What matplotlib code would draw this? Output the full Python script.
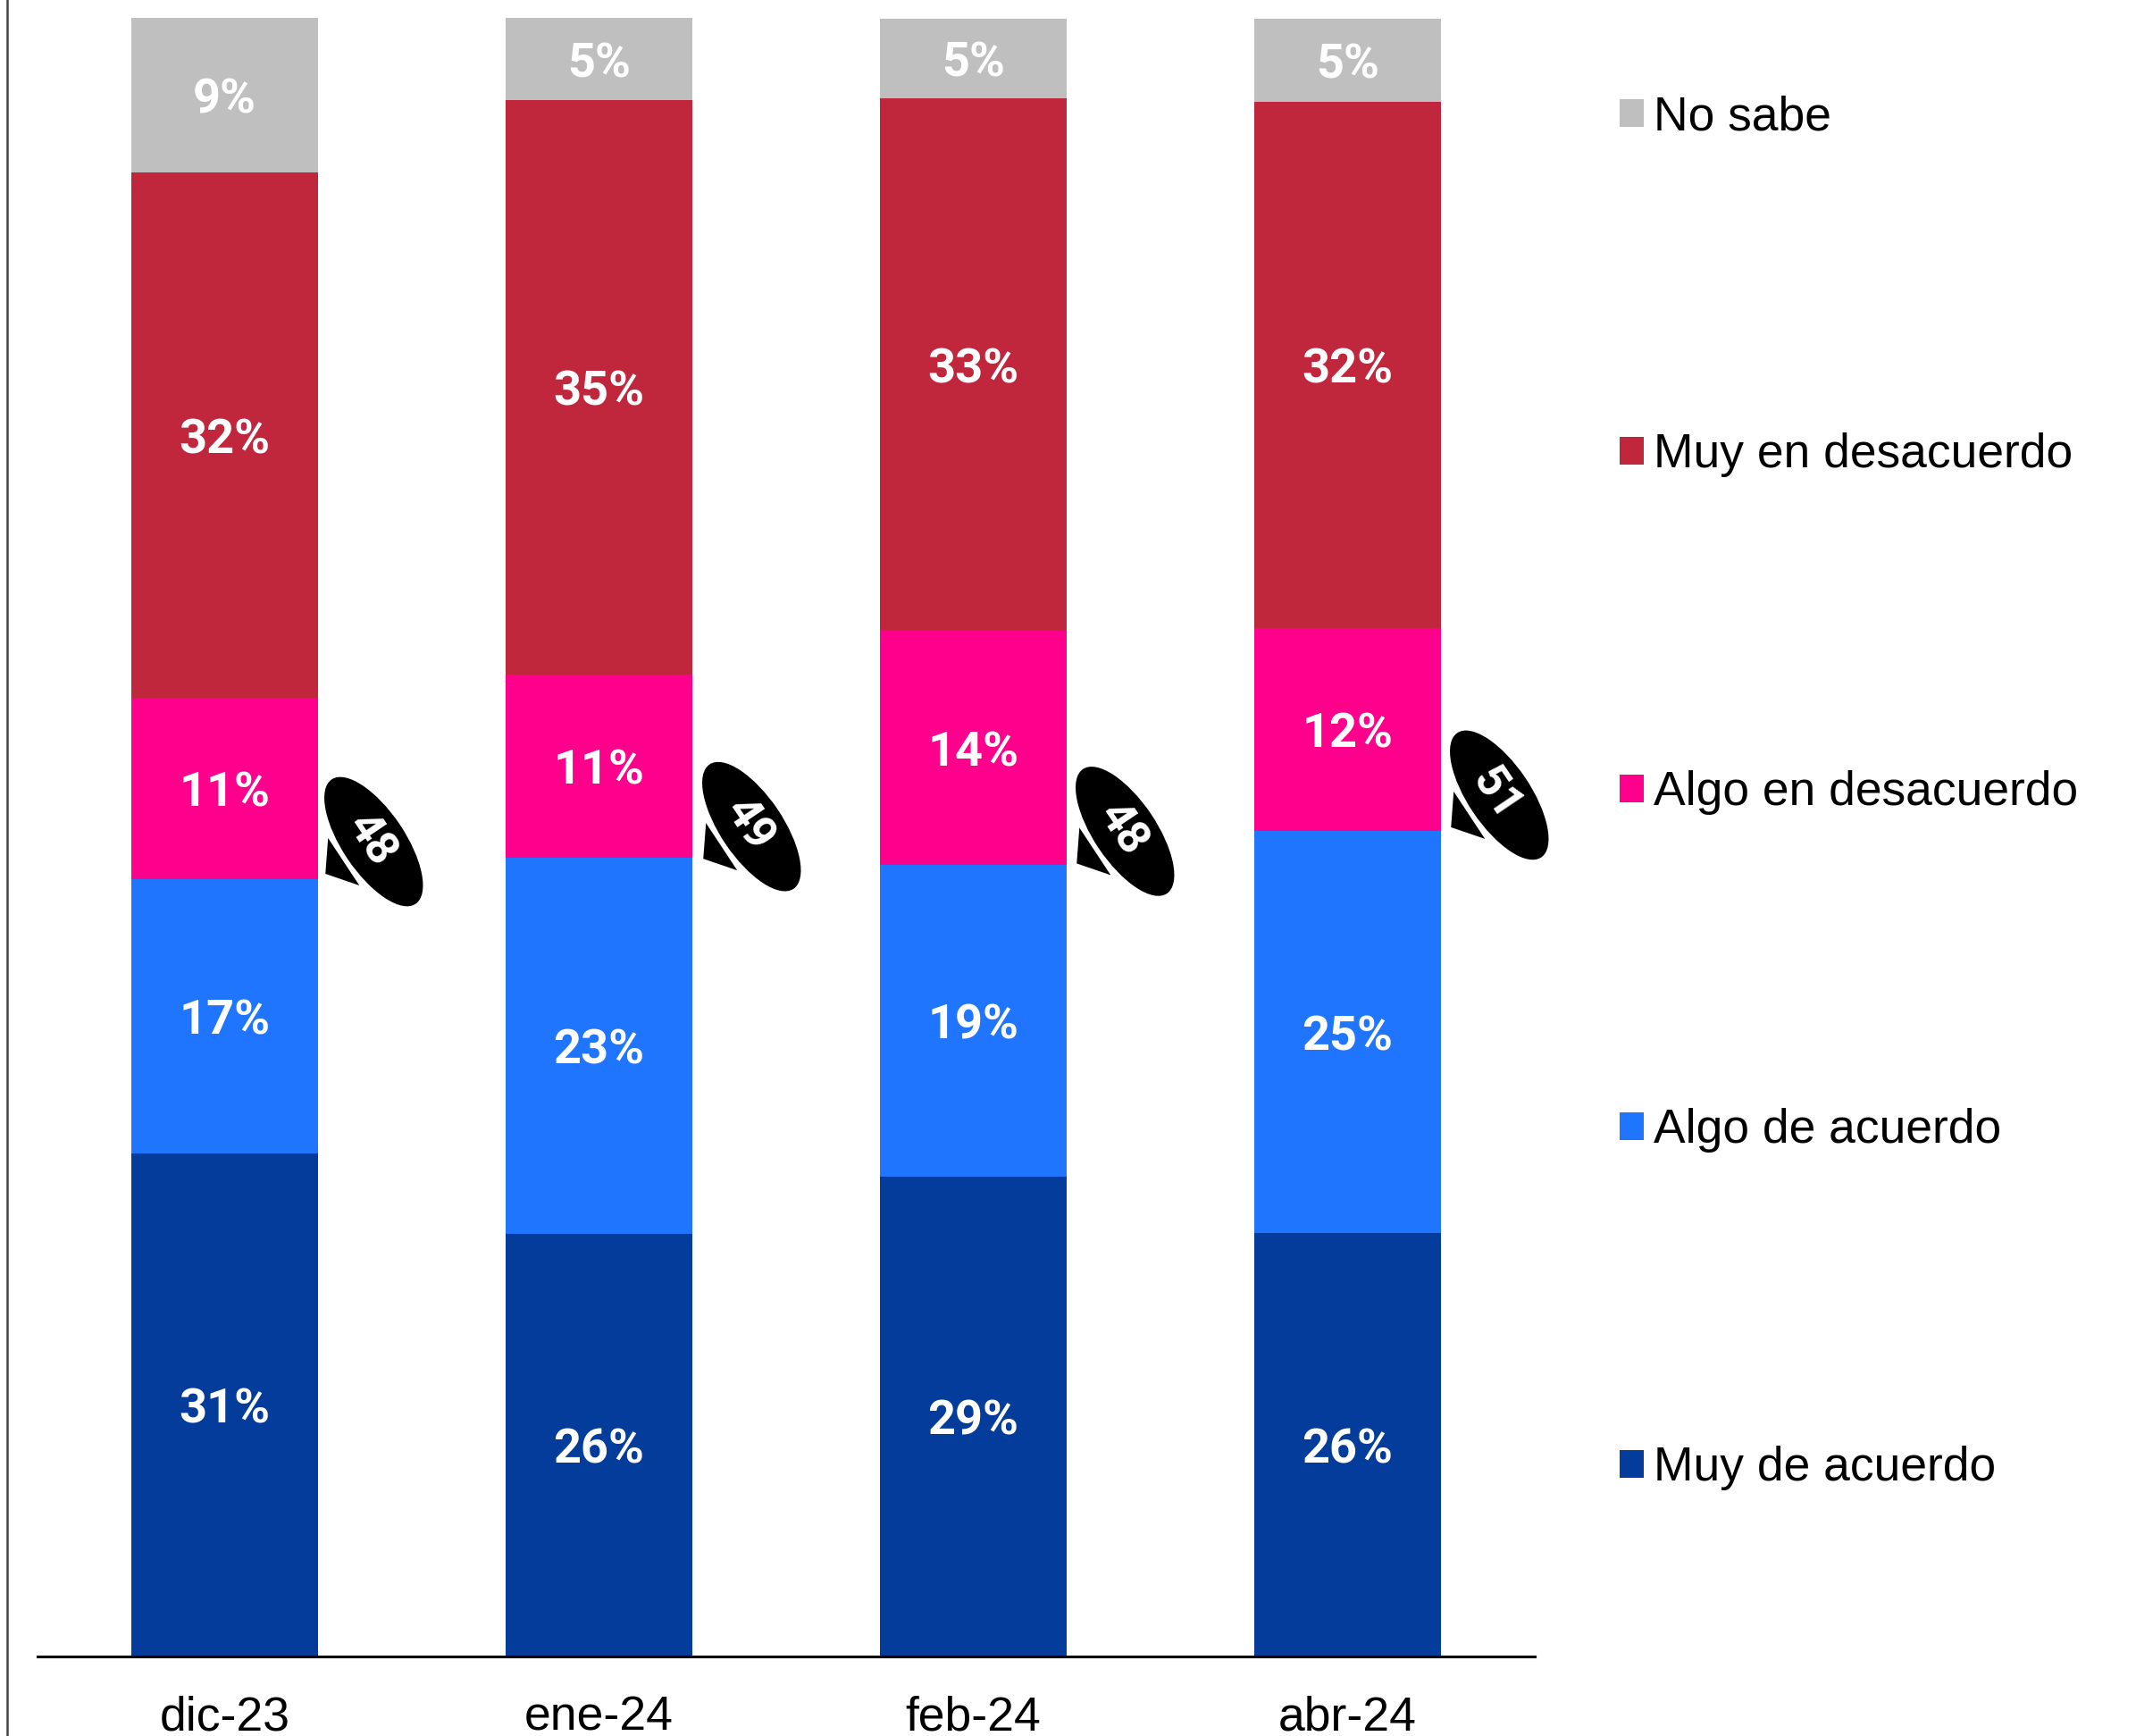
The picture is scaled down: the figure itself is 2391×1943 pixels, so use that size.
import matplotlib
matplotlib.use('Agg')
import matplotlib.pyplot as plt
import numpy as np
from matplotlib.lines import Line2D
from matplotlib.patches import Ellipse, Patch, Polygon
from matplotlib.transforms import IdentityTransform

months = ['dic-23', 'ene-24', 'feb-24', 'abr-24']
series_names = ['Muy de acuerdo', 'Algo de acuerdo', 'Algo en desacuerdo', 'Muy en desacuerdo', 'No sabe']
muy_acuerdo = [30.7, 25.8, 29.3, 25.85]
algo_acuerdo = [16.75, 22.95, 19.0, 24.55]
algo_desacuerdo = [11.05, 11.18, 14.3, 12.36]
muy_desacuerdo = [32.1, 35.07, 32.51, 32.14]
no_sabe = [9.4, 5.0, 4.89, 5.1]
bubble_values = [48, 49, 48, 51]

colors = ['#033C9A', '#1F75FE', '#FF008C', '#C0273D', '#BFBFBF']
bubble_dy = [42, 35, 38, 40]
bubble_dx = [62, 66, 65, 65]

W, H = 2391, 1943
fig = plt.figure(figsize=(W / 100, H / 100), dpi=100, facecolor='white')
ax = fig.add_axes([42 / W, 1 - 1854 / H, (1718 - 42) / W, (1854 - 20.5) / H])

x = np.arange(len(months))
bottom = np.zeros(len(months))
all_series = [muy_acuerdo, algo_acuerdo, algo_desacuerdo, muy_desacuerdo, no_sabe]
for vals, c in zip(all_series, colors):
    vals = np.array(vals)
    ax.bar(x, vals, 0.5, bottom=bottom, color=c, linewidth=0, clip_on=False)
    for xi, v, b in zip(x, vals, bottom):
        ax.annotate('%.0f%%' % v, (xi, b + v / 2), xytext=(0, -4), textcoords='offset points',
                    ha='center', va='center', color='white',
                    fontsize=39, fontweight='bold', family='Roboto')
    bottom = bottom + vals

ax.set_xlim(-0.5, 3.5)
ax.set_ylim(0, 100)
ax.set_yticks([])
ax.set_xticks(x)
ax.set_xticklabels(months, fontsize=38.5, family='Liberation Sans')
ax.tick_params(axis='x', length=0, pad=31)
for s in ['top', 'left', 'right']:
    ax.spines[s].set_visible(False)
ax.spines['bottom'].set_linewidth(2.2)
ax.patch.set_alpha(0)

# bubbles are placed in pixels from the top of the blue segment
fig.canvas.draw()
px = IdentityTransform()
tops = np.array(muy_acuerdo) + np.array(algo_acuerdo)
for xi, top, val, dx, dy in zip(x, tops, bubble_values, bubble_dx, bubble_dy):
    bx, by = ax.transData.transform((xi + 0.25, top))
    cx, cy = bx + dx, by + dy
    fig.add_artist(Ellipse((cx, cy), 168, 70, angle=-56, color='black', linewidth=0, transform=px))
    tail = np.array([[-51, 4], [-54, -36], [-16, -49]]) + [cx, cy]
    fig.add_artist(Polygon(tail, closed=True, color='black', linewidth=0, transform=px))
    fig.text(cx - 3, cy + 2, str(val), color='white', fontsize=37, fontweight='bold', family='Roboto',
             rotation=-56, rotation_mode='anchor', ha='center', va='center', transform=px)

# frame line on the left edge
fig.add_artist(Line2D([7.5 / W, 7.5 / W], [0, 1], color='#444444', linewidth=1.8))

handles = [Patch(color=c, linewidth=0) for c in colors[::-1]]
leg = fig.legend(handles, series_names[::-1], loc='upper left', bbox_to_anchor=(1813 / W, 1 - 106 / H),
                 frameon=False, prop={'family': 'Liberation Sans', 'size': 38.4},
                 handlelength=0.515, handleheight=0.515, handletextpad=0.2, labelspacing=6.15,
                 borderpad=0, borderaxespad=0)

fig.savefig('out.png', dpi=100)
